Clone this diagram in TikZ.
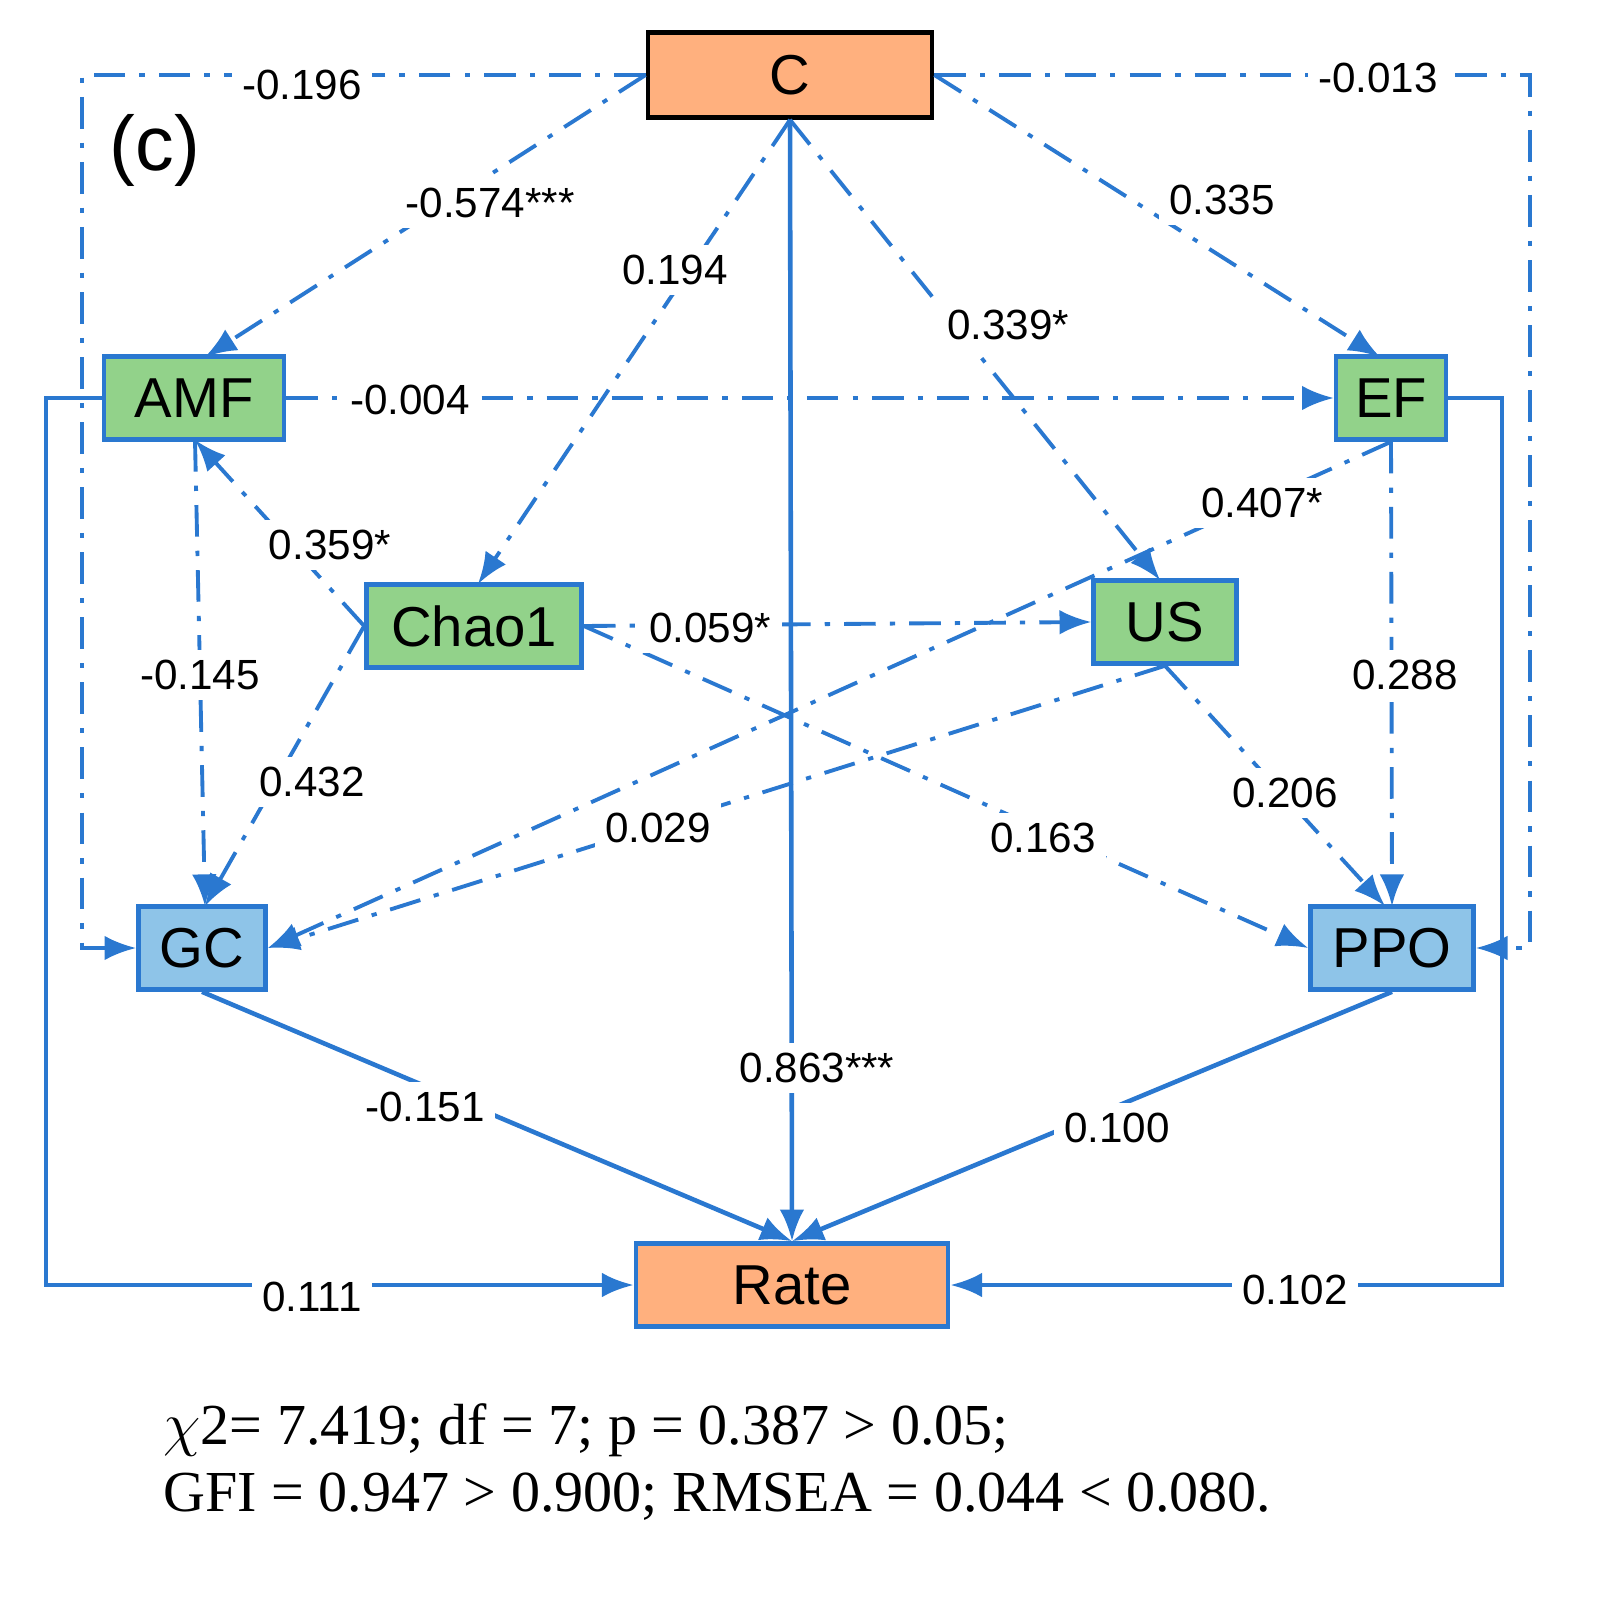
\documentclass[tikz,border=0pt]{standalone}
\usepackage{fontspec}
\setmainfont{Liberation Sans}
\newfontfamily\serifx{Liberation Serif}
\usetikzlibrary{arrows.meta}
\definecolor{lb}{HTML}{2A78D0}
\definecolor{og}{HTML}{FFB07E}
\definecolor{gr}{HTML}{92D28A}
\definecolor{bl}{HTML}{8EC4E8}
\begin{document}
\begin{tikzpicture}[x=0.01cm,y=-0.01cm,
 box/.style={draw=lb,line width=1.3pt,minimum height=0.83cm,font=\fontsize{16}{16}\selectfont,inner sep=0pt},
 dd/.style={draw=lb,line width=1.1pt,dash pattern=on 9pt off 4pt on 1.5pt off 4pt,-{Latex[length=9pt,width=7pt]}},
 sl/.style={draw=lb,line width=1.3pt,-{Latex[length=9pt,width=7pt]}},
 lab/.style={fill=white,font=\fontsize{12}{12}\selectfont,inner sep=3pt}]
\useasboundingbox (0,0) rectangle (1601,1598);
\node[box,draw=black,fill=og,minimum width=2.84cm,minimum height=0.85cm] (C) at (790,75) {C};
\node[box,fill=gr,minimum width=1.8cm] (AMF) at (194,398) {AMF};
\node[box,fill=gr,minimum width=1.1cm] (EF) at (1391,398) {EF};
\node[box,fill=gr,minimum width=2.15cm] (Ch) at (474,626) {Chao1};
\node[box,fill=gr,minimum width=1.43cm] (US) at (1165,622) {US};
\node[box,fill=bl,minimum width=1.27cm] (GC) at (202,948) {GC};
\node[box,fill=bl,minimum width=1.63cm] (PPO) at (1392,948) {PPO};
\node[box,fill=og,minimum width=3.12cm] (R) at (792,1285) {Rate};
\node[font=\fontsize{22}{22}\selectfont] (lc) at (155,150) {(c)};
\coordinate (a1) at (82,75); \coordinate (a2) at (82,948);
\coordinate (b1) at (1530,75); \coordinate (b2) at (1530,948);
\coordinate (c1) at (46,398); \coordinate (c2) at (46,1285);
\coordinate (d1) at (1502,398); \coordinate (d2) at (1502,1285);
% dash-dot paths
\draw[dd] (C.west) -- (a1) -- (a2) -- (GC.west);
\draw[dd] (C.east) -- (b1) -- (b2) -- (PPO.east);
\draw[dd] (C.west) -- (205,357);
\draw[dd] (C.south) -- (478,584);
\draw[dd] (C.south) -- (1160,580);
\draw[dd] (C.east) -- (1380,357);
\draw[dd] (AMF.east) -- (EF.west);
\draw[dd] (Ch.west) -- (195,440);
\draw[dd] (195,440) -- (205,906);
\draw[dd] (Ch.west) -- (205,906);
\draw[dd] (Ch.east) -- (US.west);
\draw[dd] (Ch.east) -- (PPO.west);
\draw[dd] (EF.south) -- (GC.east);
\draw[dd] (US.south) -- (GC.east);
\draw[dd] (US.south) -- (1385,906);
\draw[dd] (EF.south) -- (1392,906);
% solid
\draw[sl] (C.south) -- (R.north);
\draw[sl] (GC.south) -- (R.north);
\draw[sl] (PPO.south) -- (R.north);
\draw[sl] (AMF.west) -- (c1) -- (c2) -- (R.west);
\draw[sl] (EF.east) -- (d1) -- (d2) -- (R.east);
% labels
\node[lab] (l1) at (302,85) {-0.196};
\node[lab] (l2) at (1378,78) {-0.013};
\node[lab] (l3) at (312,1297) {0.111};
\node[lab] (l4) at (1295,1290) {0.102};
\node[lab] (l5) at (1262,503) {0.407*};
\node[lab] (l6) at (658,828) {0.029};
\node[lab] (l7) at (490,203) {-0.574***};
\node[lab] (l8) at (675,270) {0.194};
\node[lab] (l9) at (1008,325) {0.339*};
\node[lab] (l10) at (1222,200) {0.335};
\node[lab] (l11) at (410,400) {-0.004};
\node[lab] (l12) at (330,545) {0.359*};
\node[lab] (l13) at (200,675) {-0.145};
\node[lab] (l14) at (312,782) {0.432};
\node[lab] (l15) at (710,628) {0.059*};
\node[lab] (l16) at (1043,838) {0.163};
\node[lab] (l17) at (1285,793) {0.206};
\node[lab] (l18) at (1405,675) {0.288};
\node[lab] (l19) at (817,1068) {0.863***};
\node[lab] (l20) at (425,1107) {-0.151};
\node[lab] (l21) at (1117,1128) {0.100};
\node[anchor=west,font=\serifx\fontsize{16.5}{16.5}\selectfont,inner sep=0pt] (t1) at (163,1430) {$\chi$2= 7.419; df = 7; p = 0.387 > 0.05;};
\node[anchor=west,font=\serifx\fontsize{16.5}{16.5}\selectfont,inner sep=0pt] (t2) at (163,1497) {GFI = 0.947 > 0.900; RMSEA = 0.044 < 0.080.};
\end{tikzpicture}
\end{document}
